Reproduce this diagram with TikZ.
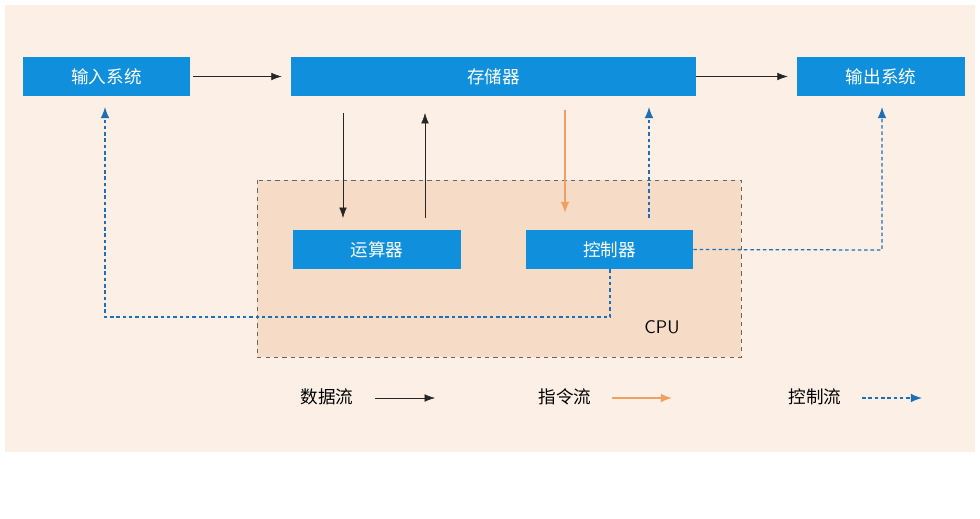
\documentclass[tikz,border=0pt]{standalone}
\usepackage{fontspec}
\newfontfamily\cjk{Noto Sans CJK SC}
\usetikzlibrary{positioning,calc,arrows.meta}
\definecolor{boxblue}{HTML}{0F8FDC}
\definecolor{panel}{HTML}{FBEFE6}
\definecolor{cpufill}{HTML}{F6DCC6}
\definecolor{ctrlblue}{HTML}{1F6FB8}
\definecolor{instr}{HTML}{F0A060}
\tikzset{
	unit/.style={fill=boxblue,text=white,font=\cjk\fontsize{12.5}{12.5}\selectfont,minimum height=0.975cm,inner sep=0pt},
	lbl/.style={font=\cjk\fontsize{12.5}{12.5}\selectfont},
	data/.style={-{Latex[length=2.6mm,width=1.9mm]},black!85},
	instrflow/.style={-{Latex[length=2.8mm,width=2.2mm]},instr,line width=1.3pt},
	ctrl/.style={-{Latex[length=2.8mm,width=2.2mm]},ctrlblue,dash pattern=on 2.5pt off 2pt,line width=0.9pt}
}
\begin{document}
\begin{tikzpicture}[x=0.025cm,y=-0.025cm]
	\useasboundingbox (0,0) rectangle (980,519);
	\fill[panel] (5,5) rectangle (975,452);
	% CPU
	\draw[fill=cpufill,draw=gray!80!black,dashed] (257,180) rectangle (741,357);
	\node[font=\sffamily\fontsize{13}{13}\selectfont] (cpu) at (662,327) {CPU};
	% units
	\node[unit,minimum width=4.175cm] (in) at (106.5,76.5) {输入系统};
	\node[unit,minimum width=10.125cm] (mem) at (493.5,76.5) {存储器};
	\node[unit,minimum width=4.2cm] (out) at (881,76.5) {输出系统};
	\node[unit,minimum width=4.2cm] (alu) at (377,249.5) {运算器};
	\node[unit,minimum width=4.175cm] (cu) at (609.5,249.5) {控制器};
	% data flow
	\draw[data] (in.east) ++(3,0) -- ($(mem.west)+(-9,0)$);
	\draw[data] (mem.east) -- ($(out.west)+(-9,0)$);
	\draw[data] (343,113) -- (343,218);
	\draw[data] (425,218) -- (425,113);
	% instruction flow
	\draw[instrflow] (565,110) -- (565,213);
	% control flow
	\draw[ctrl] (649,218) -- (649,107);
	\coordinate (c1) at (882,250);
	\draw[ctrl] (cu.east) -- (c1) -- (882,107);
	\coordinate (c2) at (610,317);
	\coordinate (c3) at (105,317);
	\draw[ctrl] (cu.south -| c2) -- (c2) -- (c3) -- (105,107);
	% legend
	\node[lbl] (ldata) at (327,397) {数据流};
	\draw[data] (375,398) -- (435,398);
	\node[lbl] (linstr) at (565,397) {指令流};
	\draw[instrflow] (612,398) -- (672,398);
	\node[lbl] (lctrl) at (815,397) {控制流};
	\draw[ctrl] (862,398) -- (922,398);
\end{tikzpicture}
\end{document}
